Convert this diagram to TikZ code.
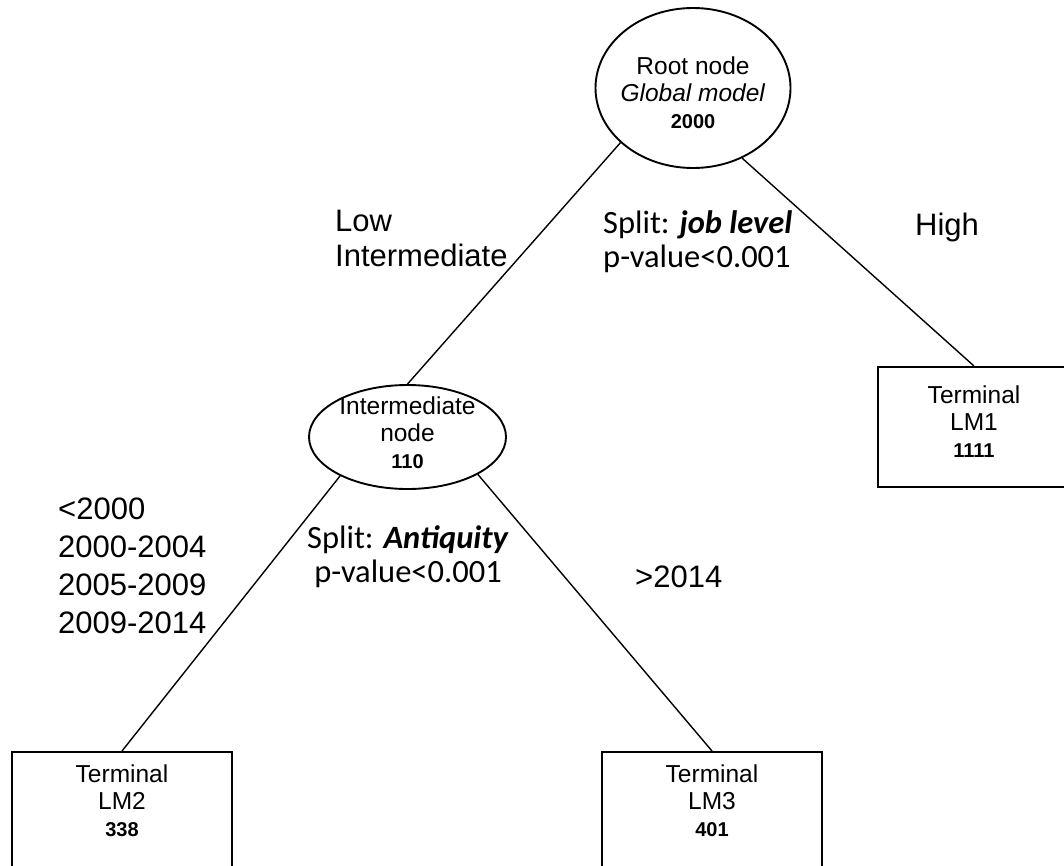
\documentclass[tikz,border=0pt]{standalone}
\usepackage{fontspec}
\setmainfont{Liberation Sans}
\newfontfamily\calibri{Carlito}
\usetikzlibrary{shapes.geometric}
\begin{document}
\begin{tikzpicture}[x=1pt,y=-1pt,
  ell/.style={draw, ellipse, inner sep=0pt, line width=1.9pt},
  box/.style={draw, rectangle, inner sep=0pt, line width=2pt},
  conn/.style={line width=1.4pt},
  ntext/.style={inner sep=0pt, align=center, font=\fontsize{24.5}{27}\selectfont},
  lab/.style={inner sep=0pt, align=left, font=\fontsize{31}{35}\selectfont},
  split/.style={inner sep=0pt, font=\calibri\fontsize{32.5}{34}\selectfont},
]
\useasboundingbox (0,0) rectangle (1064,865);
\clip (0,0) rectangle (1064,865);
\fill[white] (0,0) rectangle (1064,865);

% shapes
\node[ell, minimum width=195pt, minimum height=160pt] (root) at (693,88) {};
\node[ell, minimum width=197pt, minimum height=104pt] (inter) at (407.5,437) {};
\node[box, minimum width=192pt, minimum height=120pt] (lm1) at (974,427) {};
\node[box, minimum width=220pt, minimum height=148pt] (lm2) at (122,826) {};
\node[box, minimum width=220pt, minimum height=148pt] (lm3) at (712,826) {};

% node texts
\node[ntext] (roottxt) at (693,92.4) {Root node\\\textit{Global model}\\{\fontsize{20}{27}\selectfont\bfseries 2000}};
\node[ntext] (intertxt) at (407.5,433) {Intermediate\\node\\{\fontsize{20}{27}\selectfont\bfseries 110}};
\node[ntext] (lm1txt) at (974,421.4) {Terminal\\LM1\\{\fontsize{20}{27}\selectfont\bfseries 1111}};
\node[ntext] (lm2txt) at (122,800.4) {Terminal\\LM2\\{\fontsize{20}{27}\selectfont\bfseries 338}};
\node[ntext] (lm3txt) at (712,800.4) {Terminal\\LM3\\{\fontsize{20}{27}\selectfont\bfseries 401}};

% connectors
\draw[conn] (root.217) -- (inter.north);
\draw[conn] (root.-55) -- (lm1.north);
\draw[conn] (inter.210) -- (lm2.north);
\draw[conn] (inter.-28) -- (lm3.north);

% labels
\node[lab, anchor=west] (lowlab) at (335,238) {Low\\Intermediate};
\node[split, anchor=west, align=left] (split1) at (603,241.5) {Split: \textbf{\textit{job level}}\\p-value<0.001};
\node[lab, anchor=base west] (high) at (915,235) {High};
\node[split, anchor=center, align=center] (split2) at (408,557) {Split: \textbf{\textit{Antiquity}}\\p-value<0.001};
\node[lab, anchor=west, font=\fontsize{31}{38}\selectfont] (yrs) at (58,566) {<2000\\2000-2004\\2005-2009\\2009-2014};
\node[lab, anchor=base west] (gt) at (635,587) {>2014};
\end{tikzpicture}
\end{document}
